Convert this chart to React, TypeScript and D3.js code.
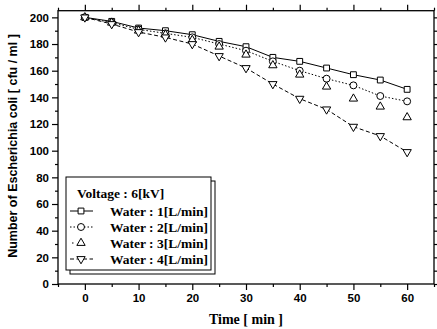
import { useEffect, useRef } from "react"
import * as d3 from "d3"

// time in minutes
const times = [0, 5, 10, 15, 20, 25, 30, 35, 40, 45, 50, 55, 60]

// E. coli counts [cfu / ml] for each water flow rate
const water1 = [200, 197, 192, 190, 187, 182, 178, 170, 167, 162, 157, 153, 146]
const water2 = [200, 196, 191, 188, 185, 180, 175, 167, 160, 154, 149, 141, 137]
const water3 = [200, 196, 190, 187, 183, 178, 172, 164, 157, 148, 139, 133, 125]
const water4 = [200, 195, 189, 185, 180, 171, 162, 150, 139, 131, 118, 111, 99]

const xTicks = [0, 10, 20, 30, 40, 50, 60]
const yTicks = [0, 20, 40, 60, 80, 100, 120, 140, 160, 180, 200]

const legendTitle = "Voltage : 6[kV]"
const seriesNames = ["Water : 1[L/min]", "Water : 2[L/min]", "Water : 3[L/min]", "Water : 4[L/min]"]

export default function App() {
  const svgRef = useRef<SVGSVGElement | null>(null)

  useEffect(() => {
    if (!svgRef.current) return
    const svg = d3.select(svgRef.current)
    svg.selectAll("*").remove()

    const left = 58
    const right = 434
    const top = 10.7
    const bottom = 284

    const x = d3.scaleLinear().domain([-5, 65]).range([left, right])
    const y = d3.scaleLinear().domain([0, 205]).range([bottom, top])

    const sans = "'Liberation Sans', Arial, sans-serif"
    const serif = "'Liberation Serif', 'Times New Roman', serif"

    // frame
    svg
      .append("rect")
      .attr("x", left)
      .attr("y", top)
      .attr("width", right - left)
      .attr("height", bottom - top)
      .attr("fill", "none")
      .attr("stroke", "#000")
      .attr("stroke-width", 1.3)

    const styleAxis = (g: any, labels: boolean) => {
      g.select(".domain").remove()
      g.selectAll("line").attr("stroke", "#000").attr("stroke-width", 1.2)
      g.selectAll("text")
        .attr("font-family", sans)
        .attr("font-weight", "bold")
        .attr("font-size", "11.5px")
        .attr("fill", "#000")
      if (!labels) g.selectAll("text").remove()
    }

    const minorX = d3.range(-5, 66, 5).filter((v) => v % 10 !== 0)
    const minorY = d3.range(10, 206, 20)

    // bottom axis
    svg
      .append("g")
      .attr("transform", `translate(0,${bottom})`)
      .call(d3.axisBottom(x).tickValues(xTicks).tickSize(6).tickPadding(4).tickFormat(d3.format("d")))
      .call((g) => styleAxis(g, true))
    svg
      .append("g")
      .attr("transform", `translate(0,${bottom})`)
      .call(d3.axisBottom(x).tickValues(minorX).tickSize(3).tickFormat(() => ""))
      .call((g) => styleAxis(g, false))

    // top axis
    svg
      .append("g")
      .attr("transform", `translate(0,${top})`)
      .call(d3.axisTop(x).tickValues(xTicks).tickSize(6))
      .call((g) => styleAxis(g, false))
    svg
      .append("g")
      .attr("transform", `translate(0,${top})`)
      .call(d3.axisTop(x).tickValues(minorX).tickSize(3))
      .call((g) => styleAxis(g, false))

    // left axis
    svg
      .append("g")
      .attr("transform", `translate(${left},0)`)
      .call(d3.axisLeft(y).tickValues(yTicks).tickSize(6).tickPadding(3).tickFormat(d3.format("d")))
      .call((g) => styleAxis(g, true))
    svg
      .append("g")
      .attr("transform", `translate(${left},0)`)
      .call(d3.axisLeft(y).tickValues(minorY).tickSize(3))
      .call((g) => styleAxis(g, false))

    // right axis
    svg
      .append("g")
      .attr("transform", `translate(${right},0)`)
      .call(d3.axisRight(y).tickValues(yTicks).tickSize(6))
      .call((g) => styleAxis(g, false))
    svg
      .append("g")
      .attr("transform", `translate(${right},0)`)
      .call(d3.axisRight(y).tickValues(minorY).tickSize(3))
      .call((g) => styleAxis(g, false))

    // axis titles
    svg
      .append("text")
      .attr("x", (left + right) / 2)
      .attr("y", 324)
      .attr("text-anchor", "middle")
      .attr("font-family", serif)
      .attr("font-weight", "bold")
      .attr("font-size", "14px")
      .text("Time [ min ]")

    svg
      .append("text")
      .attr("transform", `translate(17,146) rotate(-90)`)
      .attr("text-anchor", "middle")
      .attr("font-family", sans)
      .attr("font-weight", "bold")
      .attr("font-size", "12.5px")
      .text("Number of  Escherichia coli [ cfu / ml ]")

    const series = [
      { values: water1, dash: null as string | null, line: true, symbol: d3.symbolSquare, size: 34, rot: 0 },
      { values: water2, dash: "1.5,2", line: true, symbol: d3.symbolCircle, size: 38, rot: 0 },
      { values: water3, dash: null, line: false, symbol: d3.symbolTriangle, size: 30, rot: 0 },
      { values: water4, dash: "4,2.5", line: true, symbol: d3.symbolTriangle, size: 30, rot: 180 },
    ]

    const lineGen = d3
      .line<number>()
      .x((_, i) => x(times[i]))
      .y((d) => y(d))

    series.forEach((s) => {
      if (!s.line) return
      svg
        .append("path")
        .datum(s.values)
        .attr("d", lineGen)
        .attr("fill", "none")
        .attr("stroke", "#000")
        .attr("stroke-width", 1)
        .attr("stroke-dasharray", s.dash)
    })

    series.forEach((s) => {
      svg
        .append("g")
        .selectAll("path")
        .data(s.values)
        .enter()
        .append("path")
        .attr("d", d3.symbol().type(s.symbol).size(s.size)())
        .attr("transform", (d, i) => `translate(${x(times[i])},${y(d)}) rotate(${s.rot})`)
        .attr("fill", "#fff")
        .attr("stroke", "#000")
        .attr("stroke-width", 1)
    })

    // legend
    const lg = svg.append("g")
    lg.append("rect")
      .attr("x", 70)
      .attr("y", 181)
      .attr("width", 145)
      .attr("height", 93)
      .attr("fill", "#fff")
      .attr("stroke", "#000")
      .attr("stroke-width", 1)
    lg.append("rect")
      .attr("x", 66)
      .attr("y", 177)
      .attr("width", 145)
      .attr("height", 93)
      .attr("fill", "#fff")
      .attr("stroke", "#000")
      .attr("stroke-width", 1)

    lg.append("text")
      .attr("x", 77)
      .attr("y", 198)
      .attr("font-family", serif)
      .attr("font-size", "13.5px")
      .attr("font-weight", "bold")
      .text(legendTitle)

    seriesNames.forEach((name, i) => {
      const cy = 211 + i * 16
      const s = series[i]
      if (s.line) {
        lg.append("line")
          .attr("x1", 70)
          .attr("x2", 93)
          .attr("y1", cy)
          .attr("y2", cy)
          .attr("stroke", "#000")
          .attr("stroke-width", 1)
          .attr("stroke-dasharray", s.dash)
      } else {
        lg.append("line")
          .attr("x1", 72)
          .attr("x2", 73.5)
          .attr("y1", cy)
          .attr("y2", cy)
          .attr("stroke", "#000")
          .attr("stroke-width", 1)
      }
      lg.append("path")
        .attr("d", d3.symbol().type(s.symbol).size(s.size)())
        .attr("transform", `translate(81,${cy}) rotate(${s.rot})`)
        .attr("fill", "#fff")
        .attr("stroke", "#000")
        .attr("stroke-width", 1)
      lg.append("text")
        .attr("x", 110)
        .attr("y", cy + 4.5)
        .attr("font-family", serif)
        .attr("font-size", "13.5px")
        .attr("font-weight", "bold")
        .text(name)
    })
  }, [])

  return (
    <svg
      ref={svgRef}
      width={437}
      height={329}
      style={{ position: "absolute", left: 0, top: 0, background: "#fff" }}
    ></svg>
  )
}
